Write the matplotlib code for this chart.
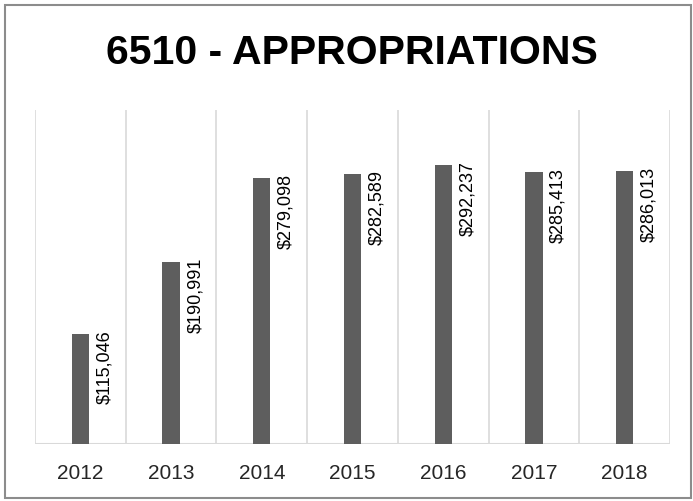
import matplotlib
matplotlib.use("Agg")
import matplotlib.pyplot as plt
from matplotlib.patches import Rectangle

years = ["2012", "2013", "2014", "2015", "2016", "2017", "2018"]
values = [115046, 190991, 279098, 282589, 292237, 285413, 286013]
labels = ["$115,046", "$190,991", "$279,098", "$282,589", "$292,237", "$285,413", "$286,013"]
title = "6510 - APPROPRIATIONS"

plt.rcParams['font.family'] = ['Liberation Sans', 'DejaVu Sans']

W, H = 693, 502
fig = plt.figure(figsize=(W / 100, H / 100), dpi=100)
ax = fig.add_axes([35 / W, (H - 445) / H, (670 - 35) / W, (445 - 111) / H])

x = list(range(len(years)))
ax.bar(x, values, width=0.19, color="#5e5e5e", zorder=3)
ax.set_xlim(-0.5, len(years) - 0.5)
ax.set_ylim(0, 350000)

for xi in [i - 0.5 for i in range(len(years) + 1)]:
    ax.axvline(xi, color="#d9d9d9", lw=1.2, zorder=1)
ax.axhline(0, color="#d9d9d9", lw=1.5, zorder=2)

for xi, v, lab in zip(x, values, labels):
    ax.annotate(lab, (xi, v), xytext=(17.5, 3.5), textcoords="offset points",
                rotation=90, ha="center", va="top", fontsize=13, color="#000000")

for s in ax.spines.values():
    s.set_visible(False)
ax.set_yticks([])
ax.set_xticks(x)
ax.set_xticklabels(years, fontsize=15, color="#262626")
ax.tick_params(axis="x", length=0, pad=14)

fig.text(351.5 / W, 1 - 52.5 / H, title, ha="center", va="center",
         fontsize=29.5, fontweight="bold", color="#000000")

fig.patches.append(Rectangle((5 / W, 1 - 499 / H), (691 - 5) / W, (499 - 6) / H,
                             transform=fig.transFigure, fill=False,
                             edgecolor="#8c8c8c", lw=1.5))

fig.savefig("out.png", dpi=100)
